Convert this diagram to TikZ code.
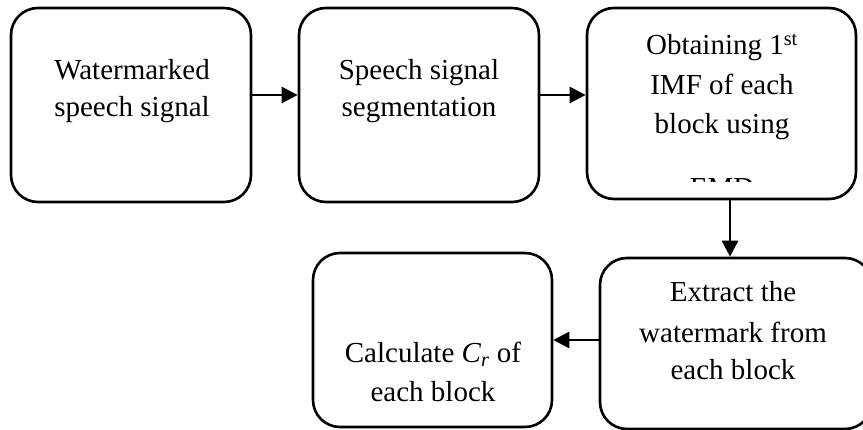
\documentclass[tikz,border=0pt]{standalone}
\usepackage{fontspec}
\setmainfont{Liberation Serif}
\usetikzlibrary{arrows.meta}
\begin{document}
\begin{tikzpicture}[x=1pt,y=-1pt,
  box/.style={draw=black,line width=2.6pt,rounded corners=27pt,rectangle,inner sep=0pt},
  txt/.style={anchor=base,inner sep=0pt,font=\fontsize{29}{38}\selectfont},
  arr/.style={line width=2.6pt,-{Triangle[length=16pt,width=16pt]}}]
\useasboundingbox (0,0) rectangle (863,430);
\fill[white] (0,0) rectangle (863,430);
% boxes
\node[box,minimum width=240pt,minimum height=194pt] (b1) at (131,105) {};
\node[box,minimum width=240pt,minimum height=194pt] (b2) at (419,105) {};
\node[box,minimum width=269pt,minimum height=191pt] (b3) at (721.5,103.5) {};
\node[box,minimum width=272pt,minimum height=171pt] (b4) at (736,343.5) {};
\node[box,minimum width=239pt,minimum height=174pt] (b5) at (432.5,340) {};
% texts
\node[txt] (t1a) at (132,80) {Watermarked};
\node[txt] (t1b) at (132,117) {speech signal};
\node[txt] (t2a) at (419,80) {Speech signal};
\node[txt] (t2b) at (419,117) {segmentation};
\node[txt] (t3a) at (722,55) {Obtaining 1\textsuperscript{st}};
\node[txt] (t3b) at (722,95) {IMF of each};
\node[txt] (t3c) at (722,134) {block using};
\begin{scope}
\clip (590,150) rectangle (853,181.5);
\node[txt] (t3d) at (722,198) {EMD};
\end{scope}
\node[txt] (t4a) at (733,302) {Extract the};
\node[txt] (t4b) at (733,343) {watermark from};
\node[txt] (t4c) at (733,380) {each block};
\node[txt] (t5a) at (433,363) {Calculate \textit{C}\textsubscript{\textit{r}} of};
\node[txt] (t5b) at (433,402) {each block};
% connectors
\draw[arr] ([yshift=10pt]b1.east) -- ([yshift=10pt]b2.west);
\draw[arr] ([yshift=10pt]b2.east) -- ([yshift=10pt]b2.east -| b3.west);
\draw[arr] ([xshift=8.5pt]b3.south) -- ([xshift=8.5pt]b3.south |- b4.north);
\draw[arr] (b4.west |- b5.east) -- (b5.east);
\end{tikzpicture}
\end{document}
